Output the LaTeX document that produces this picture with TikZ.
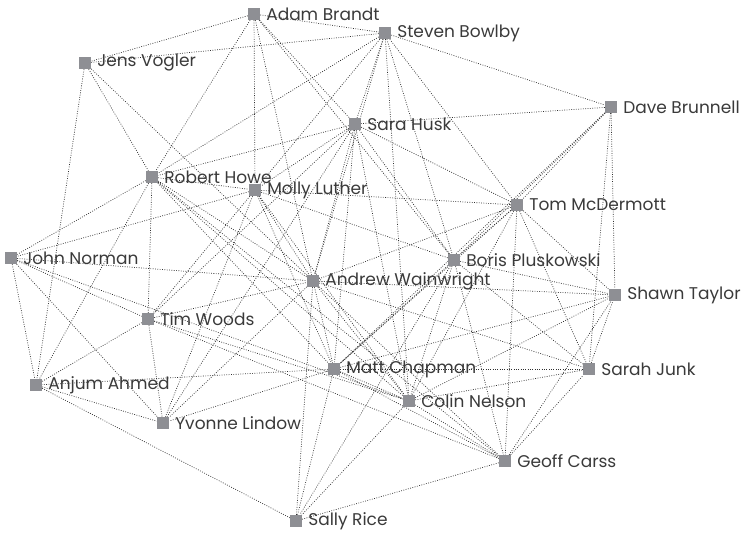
\documentclass[tikz,border=0pt]{standalone}
\usepackage{fontspec}
\setmainfont{Poppins}
\usetikzlibrary{backgrounds}
\definecolor{boxgray}{HTML}{8E8F94}
\definecolor{tiegray}{HTML}{303030}
\definecolor{namegray}{HTML}{3A3A3A}
\tikzset{
    member/.style={rectangle, fill=boxgray, minimum size=0.36cm, inner sep=0pt,
        label={[namelabel]right:#1}},
    namelabel/.style={font=\fontsize{14.5}{16}\selectfont, text=namegray, inner sep=0pt, xshift=5pt},
    link/.style={draw=tiegray, line width=0.6pt, dash pattern=on 0.7pt off 1.3pt}
}
\begin{document}
\begin{tikzpicture}[x=0.3mm, y=-0.3mm]
\useasboundingbox (0,0) rectangle (745,532);
% people
\node[member=Adam Brandt] (ab) at (254,14) {};
\node[member=Steven Bowlby] (sb) at (385,33) {};
\node[member=Jens Vogler] (jv) at (85,63) {};
\node[member=Dave Brunnell] (db) at (611,107) {};
\node[member=Sara Husk] (sh) at (355,124) {};
\node[member=Robert Howe] (rh) at (152,177) {};
\node[member=Molly Luther] (ml) at (255,190) {};
\node[member=Tom McDermott] (tm) at (517,205) {};
\node[member=John Norman] (jn) at (11,258) {};
\node[member=Boris Pluskowski] (bp) at (454,260) {};
\node[member=Andrew Wainwright] (aw) at (313,281) {};
\node[member=Shawn Taylor] (st) at (615,295) {};
\node[member=Tim Woods] (tw) at (148,319) {};
\node[member=Matt Chapman] (mc) at (334,369) {};
\node[member=Sarah Junk] (sj) at (589,369) {};
\node[member=Anjum Ahmed] (aa) at (36,385) {};
\node[member=Colin Nelson] (cn) at (409,401) {};
\node[member=Yvonne Lindow] (yl) at (163,423) {};
\node[member=Geoff Carss] (gc) at (505,461) {};
\node[member=Sally Rice] (sr) at (296,521) {};

% ties
\begin{scope}[on background layer]
    \foreach \b in {jv,sb,rh,ml,aw,sh,bp} \draw[link] (ab) -- (\b);
    \foreach \b in {jv,rh,ml,sh,aw,bp,tm,db,cn} \draw[link] (sb) -- (\b);
    \foreach \b in {rh,aw,aa} \draw[link] (jv) -- (\b);
    \foreach \b in {sh,tm,bp,st,sj,mc} \draw[link] (db) -- (\b);
    \foreach \b in {tm,bp,rh,ml,tw,yl,aw,mc,cn} \draw[link] (sh) -- (\b);
    \foreach \b in {jn,ml,tw,aa,aw,mc,cn,gc} \draw[link] (rh) -- (\b);
    \foreach \b in {tm,bp,jn,tw,yl,aw,mc,cn} \draw[link] (ml) -- (\b);
    \foreach \b in {aw,bp,mc,cn,gc,sj,st} \draw[link] (tm) -- (\b);
    \foreach \b in {aw,tw,aa,yl,cn} \draw[link] (jn) -- (\b);
    \foreach \b in {mc,gc,st,sj,cn,sr} \draw[link] (bp) -- (\b);
    \foreach \b in {aa,yl,aw,cn,gc} \draw[link] (tw) -- (\b);
    \foreach \b in {yl,st,sj,mc,cn,gc,sr} \draw[link] (aw) -- (\b);
    \foreach \b in {aa,yl,st,sj,cn,gc,sr} \draw[link] (mc) -- (\b);
    \foreach \b in {yl,sr} \draw[link] (aa) -- (\b);
    \foreach \b in {sj,st,gc,sr} \draw[link] (cn) -- (\b);
    \foreach \b in {sj,st,sr} \draw[link] (gc) -- (\b);
    \draw[link] (sj) -- (st);
\end{scope}
\end{tikzpicture}
\end{document}
